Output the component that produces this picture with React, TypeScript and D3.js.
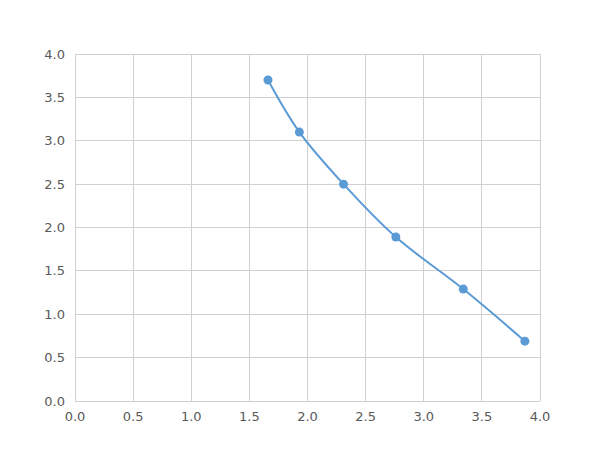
import React from 'react';
import * as d3 from 'd3';

const xValues = [1.66, 1.93, 2.31, 2.76, 3.34, 3.87];
const yValues = [3.7, 3.1, 2.5, 1.89, 1.29, 0.69];
const xTicks = [0, 0.5, 1, 1.5, 2, 2.5, 3, 3.5, 4];
const yTicks = [0, 0.5, 1, 1.5, 2, 2.5, 3, 3.5, 4];

const W = 600;
const H = 450;
const left = 75;
const right = 540;
const top = 54;
const bottom = 401;

export default function App() {
  const x = d3.scaleLinear().domain([0, 4]).range([left, right]);
  const y = d3.scaleLinear().domain([0, 4]).range([bottom, top]);

  const pts: [number, number][] = xValues.map((v, i) => [v, yValues[i]]);
  const line = d3
    .line<[number, number]>()
    .x((d) => x(d[0]))
    .y((d) => y(d[1]))
    .curve(d3.curveCatmullRom.alpha(0.5));

  const fontFamily = '"DejaVu Sans", Verdana, sans-serif';

  return (
    <svg
      width={W}
      height={H}
      style={{ position: 'absolute', left: 0, top: 0, background: '#fff' }}
    >
      {/* gridlines */}
      {xTicks.map((t) => (
        <line key={'gx' + t} x1={x(t)} x2={x(t)} y1={top} y2={bottom} stroke="#d0d0d0" strokeWidth={1} shapeRendering="crispEdges" />
      ))}
      {yTicks.map((t) => (
        <line key={'gy' + t} x1={left} x2={right} y1={y(t)} y2={y(t)} stroke="#d0d0d0" strokeWidth={1} shapeRendering="crispEdges" />
      ))}

      {/* tick labels */}
      {yTicks.map((t) => (
        <text key={'ly' + t} x={left - 10} y={y(t)} dy="0.35em" textAnchor="end" fontSize={13} fill="#595959" fontFamily={fontFamily}>
          {t.toFixed(1)}
        </text>
      ))}
      {xTicks.map((t) => (
        <text key={'lx' + t} x={x(t)} y={bottom + 20} textAnchor="middle" fontSize={13} fill="#595959" fontFamily={fontFamily}>
          {t.toFixed(1)}
        </text>
      ))}

      {/* series */}
      <path d={line(pts) || undefined} fill="none" stroke="#5b9bd5" strokeWidth={2} />
      {pts.map((d, i) => (
        <circle key={i} cx={x(d[0])} cy={y(d[1])} r={4.5} fill="#5b9bd5" />
      ))}
    </svg>
  );
}
